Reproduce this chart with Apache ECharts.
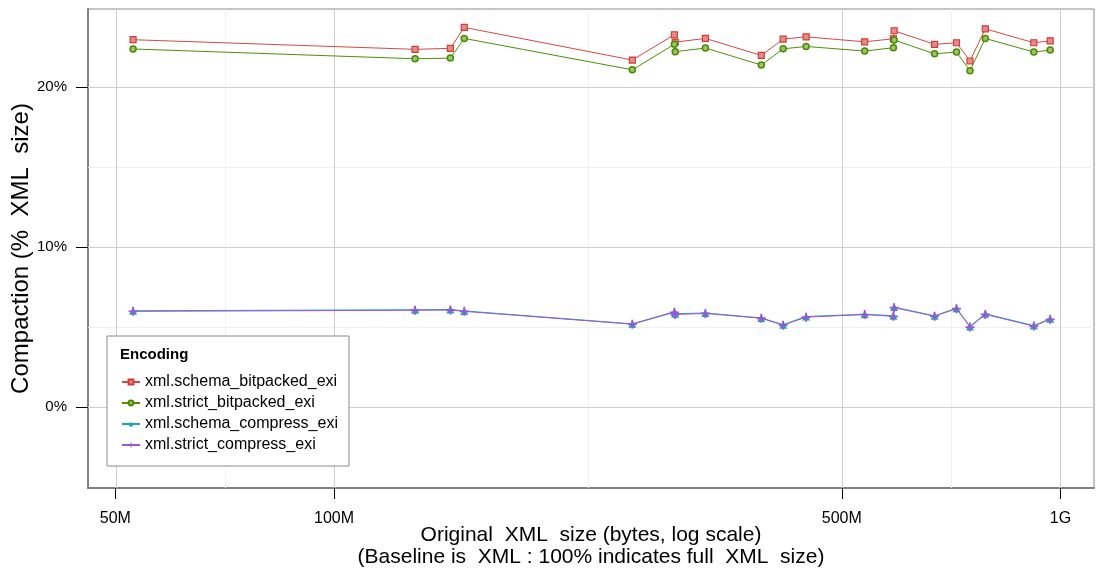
<!DOCTYPE html>
<html>
<head>
<meta charset="utf-8">
<script src="https://cdn.jsdelivr.net/npm/echarts@6/dist/echarts.min.js"></script>
<style>
html, body { margin: 0; padding: 0; background: #fff; }
#chart { width: 1096px; height: 573px; }
</style>
</head>
<body>
<div id="chart"></div>
<script>
// original XML size of each test file, in MB (x axis, log scale)
const sizes_mb = [52.9, 129.3, 144.6, 151.1, 257.4, 294.1, 294.9, 324.5, 387.4, 415.2,
    446.5, 537.6, 588.8, 590.2, 670.9, 719.2, 750.6, 787.9, 918.9, 967.8];

// compaction, % of XML size
const schema_bitpacked = [22.96, 22.36, 22.42, 23.73, 21.69, 23.27, 22.81, 23.04, 21.98, 23.00,
    23.14, 22.83, 23.02, 23.52, 22.67, 22.77, 21.63, 23.64, 22.77, 22.89];
const strict_bitpacked = [22.38, 21.77, 21.81, 23.04, 21.08, 22.67, 22.21, 22.44, 21.38, 22.39,
    22.54, 22.25, 22.46, 22.94, 22.08, 22.19, 21.02, 23.04, 22.19, 22.31];
const schema_compress = [6.02, 6.08, 6.10, 6.01, 5.20, 5.96, 5.83, 5.88, 5.57, 5.15,
    5.66, 5.80, 5.71, 6.25, 5.70, 6.18, 5.04, 5.83, 5.09, 5.52];
const strict_compress = [5.98, 6.05, 6.06, 5.98, 5.18, 5.92, 5.79, 5.85, 5.55, 5.12,
    5.62, 5.78, 5.67, 6.21, 5.68, 6.15, 5.00, 5.79, 5.06, 5.48];

const series_names = ['xml.schema_bitpacked_exi', 'xml.strict_bitpacked_exi',
    'xml.schema_compress_exi', 'xml.strict_compress_exi'];

// ticks
const x_tick_mb = [50, 100, 500, 1000];
const x_tick_labels = ['50M', '100M', '500M', '1G'];
const x_minor_mb = [70.7, 223.6, 707.1];
const y_ticks = [0, 10, 20];
const y_minor = [5, 15];

const font = '"Liberation Sans", Arial, Helvetica, sans-serif';
const lg = v => Math.log10(v);

function to_points(values) {
    return values.map((v, i) => [lg(sizes_mb[i]), v]);
}

let label_of = {};
x_tick_mb.forEach((mb, i) => { label_of[lg(mb).toFixed(4)] = x_tick_labels[i]; });

let grid_lines = [];
x_minor_mb.forEach(mb => grid_lines.push({ xAxis: lg(mb), lineStyle: { color: '#f0f0f0' } }));
y_minor.forEach(v => grid_lines.push({ yAxis: v, lineStyle: { color: '#f0f0f0' } }));
x_tick_mb.forEach(mb => grid_lines.push({ xAxis: lg(mb), lineStyle: { color: '#cfcfcf' } }));
y_ticks.forEach(v => grid_lines.push({ yAxis: v, lineStyle: { color: '#cfcfcf' } }));

let chart = echarts.init(document.getElementById('chart'));
chart.setOption({
    animation: false,
    backgroundColor: '#fff',
    textStyle: { fontFamily: font },
    grid: {
        left: 88, top: 9, right: 2, bottom: 85, outerBoundsMode: 'none', containLabel: false,
        show: true, borderColor: '#8a8a8a', borderWidth: 1
    },
    title: {
        text: 'Encoding', left: 115, top: 342, z: 10,
        textStyle: { fontFamily: font, fontSize: 15, fontWeight: 'bold', color: '#000' }
    },
    legend: {
        data: series_names,
        orient: 'vertical',
        left: 107, top: 336, z: 8,
        padding: [38, 11, 13, 14],
        itemWidth: 18, itemHeight: 6, itemGap: 5,
        backgroundColor: '#fff',
        borderColor: '#8a8a8a', borderWidth: 1, borderRadius: 0,
        textStyle: { fontFamily: font, fontSize: 16, color: '#000', lineHeight: 16 }
    },
    xAxis: {
        type: 'value',
        min: 1.6614, max: 3.0461,
        name: 'Original  XML  size (bytes, log scale)\n(Baseline is  XML : 100% indicates full  XML  size)',
        nameLocation: 'middle', nameGap: 36, nameMoveOverlap: false,
        nameTextStyle: { fontFamily: font, fontSize: 21, color: '#000', lineHeight: 22 },
        axisLine: { show: true, onZero: false, lineStyle: { color: '#808080', width: 2 } },
        axisTick: { customValues: x_tick_mb.map(lg), length: 11, lineStyle: { color: '#000' } },
        axisLabel: {
            customValues: x_tick_mb.map(lg), margin: 23,
            fontFamily: font, fontSize: 16, color: '#000',
            formatter: v => label_of[v.toFixed(4)] || ''
        },
        splitLine: { show: false }
    },
    yAxis: {
        type: 'value',
        min: -5.06, max: 24.88,
        name: 'Compaction (%  XML  size)',
        nameLocation: 'middle', nameGap: 55, nameMoveOverlap: false,
        nameTextStyle: { fontFamily: font, fontSize: 24, color: '#000' },
        axisLine: { show: true, onZero: false, lineStyle: { color: '#808080', width: 2 } },
        axisTick: { show: true, customValues: y_ticks, length: 12, lineStyle: { color: '#000' } },
        axisLabel: {
            customValues: y_ticks, margin: 21,
            fontFamily: font, fontSize: 15, color: '#000',
            formatter: v => v + '%'
        },
        splitLine: { show: false }
    },
    series: [
        {
            name: 'grid', type: 'line', data: [], z: 1, silent: true,
            markLine: {
                silent: true, symbol: 'none', animation: false, z: 1,
                label: { show: false },
                lineStyle: { type: 'solid', width: 1 },
                data: grid_lines
            }
        },
        {
            name: series_names[0], type: 'line', z: 3, data: to_points(schema_bitpacked),
            symbol: 'rect', symbolSize: 6,
            lineStyle: { color: '#d04a45', width: 1 },
            itemStyle: { color: '#e88a85', borderColor: '#cc3e3a', borderWidth: 1.2 }
        },
        {
            name: series_names[1], type: 'line', z: 3, data: to_points(strict_bitpacked),
            symbol: 'circle', symbolSize: 6,
            lineStyle: { color: '#4e8f06', width: 1 },
            itemStyle: { color: '#9cc46a', borderColor: '#4a8a00', borderWidth: 1.5 }
        },
        {
            name: series_names[2], type: 'line', z: 3, data: to_points(schema_compress),
            symbol: 'triangle', symbolSize: 8,
            lineStyle: { color: '#22a5ad', width: 1 },
            itemStyle: { color: '#22a5ad' }
        },
        {
            name: series_names[3], type: 'line', z: 4, data: to_points(strict_compress),
            symbol: 'path://M4,0H6V4H10V6H6V10H4V6H0V4H4Z', symbolSize: 9,
            lineStyle: { color: '#9a55dc', width: 1 },
            itemStyle: { color: '#9a55dc' }
        }
    ]
});
</script>
</body>
</html>
